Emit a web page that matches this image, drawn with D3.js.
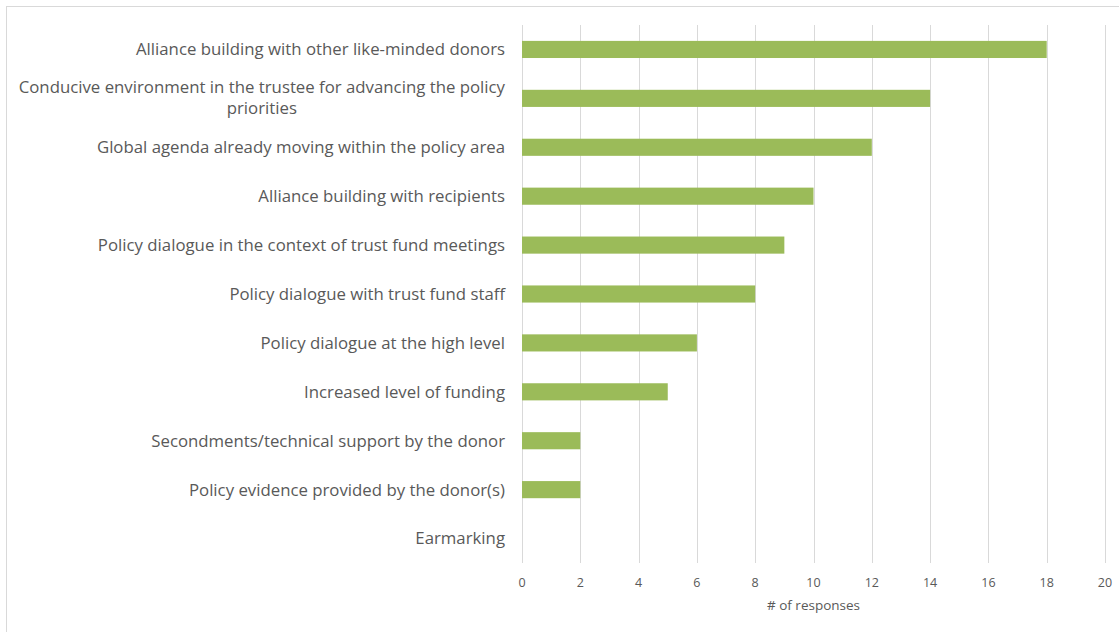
<!DOCTYPE html>
<html>
<head>
<meta charset="utf-8">
<script src="https://cdn.jsdelivr.net/npm/d3@7"></script>
<style>
  html, body { margin: 0; padding: 0; background: #fff; }
  svg { display: block; }
  text { font-family: "Open Sans", Lato, sans-serif; fill: #595959; }
</style>
</head>
<body>
<svg id="chart" width="1119" height="632"></svg>
<script>
// Factors cited, top to bottom, and the number of responses for each
const categories = [
  "Alliance building with other like-minded donors",
  "Conducive environment in the trustee for advancing the policy priorities",
  "Global agenda already moving within the policy area",
  "Alliance building with recipients",
  "Policy dialogue in the context of trust fund meetings",
  "Policy dialogue with trust fund staff",
  "Policy dialogue at the high level",
  "Increased level of funding",
  "Secondments/technical support by the donor",
  "Policy evidence provided by the donor(s)",
  "Earmarking"
];
const responses = [18, 14, 12, 10, 9, 8, 6, 5, 2, 2, 0];
const xTicks = [0, 2, 4, 6, 8, 10, 12, 14, 16, 18, 20];
const xTitle = "# of responses";

// Labels that wrap onto a second line
const wrapped = {
  "Conducive environment in the trustee for advancing the policy priorities":
    ["Conducive environment in the trustee for advancing the policy", "priorities"]
};

const svg = d3.select("#chart");
const plotLeft = 522, plotRight = 1105, plotTop = 25, plotBottom = 563;

// chart frame
svg.append("rect")
  .attr("x", 6.5).attr("y", 6.5)
  .attr("width", 1140).attr("height", 660)
  .attr("fill", "none").attr("stroke", "#d9d9d9").attr("stroke-width", 1);

const x = d3.scaleLinear().domain([0, 20]).range([plotLeft, plotRight]);
const y = d3.scaleBand().domain(categories).range([plotTop, plotBottom])
  .paddingInner(0.65).paddingOuter(0.325);

// vertical gridlines
svg.append("g").selectAll("line").data(xTicks).join("line")
  .attr("x1", d => Math.round(x(d)) + 0.5).attr("x2", d => Math.round(x(d)) + 0.5)
  .attr("y1", plotTop).attr("y2", plotBottom)
  .attr("stroke", "#d9d9d9").attr("stroke-width", 1);

// bars
svg.append("g").selectAll("rect").data(categories).join("rect")
  .attr("x", x(0))
  .attr("y", d => y(d))
  .attr("width", (d, i) => x(responses[i]) - x(0))
  .attr("height", y.bandwidth())
  .attr("fill", "#9bbb59");

// category labels
const labelX = 505;
const lab = svg.append("g").selectAll("text").data(categories).join("text")
  .attr("font-size", 16.8)
  .attr("text-anchor", "end")
  .attr("x", labelX)
  .attr("y", d => y(d) + y.bandwidth() / 2)
  .attr("dy", "0.35em");

lab.each(function(d) {
  const t = d3.select(this);
  const lines = wrapped[d];
  if (!lines) { t.text(d); return; }
  t.attr("dy", null);
  const cy = y(d) + y.bandwidth() / 2;
  // first line right-aligned; continuation line centred under it
  const first = t.append("tspan").attr("x", labelX).attr("y", cy - 5).text(lines[0]);
  const w1 = first.node().getComputedTextLength();
  t.append("tspan")
    .attr("text-anchor", "middle")
    .attr("x", labelX - w1 / 2)
    .attr("y", cy + 16)
    .text(lines[1]);
});

// tick labels
svg.append("g").selectAll("text").data(xTicks).join("text")
  .attr("font-size", 12.5)
  .attr("text-anchor", "middle")
  .attr("x", d => x(d))
  .attr("y", 587)
  .text(d => d);

// axis title
svg.append("text")
  .attr("font-size", 13.5)
  .attr("text-anchor", "middle")
  .attr("x", (plotLeft + plotRight) / 2)
  .attr("y", 610)
  .text(xTitle);
</script>
</body>
</html>
